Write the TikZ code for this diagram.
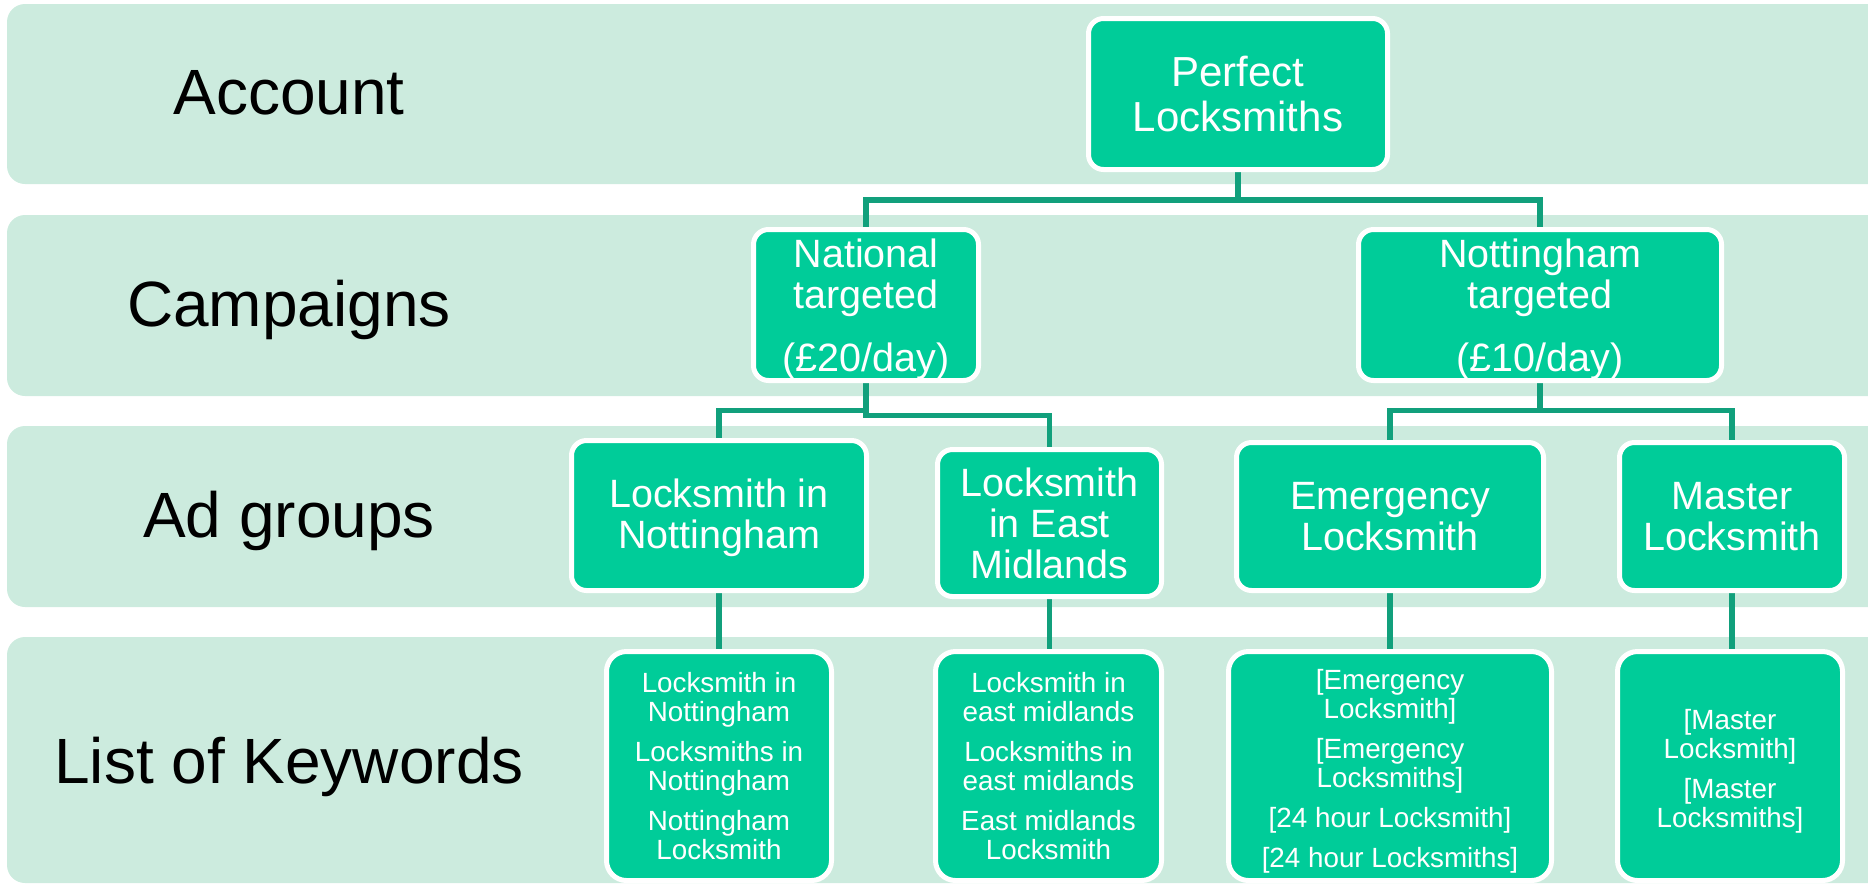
\documentclass[tikz,border=0pt]{standalone}
\usepackage{fontspec}
\setmainfont{Liberation Sans}
\definecolor{bandfill}{RGB}{204,235,222}
\definecolor{boxfill}{RGB}{0,204,153}
\definecolor{linkcol}{RGB}{17,160,124}
\newcommand\fsLabel{\fontsize{32pt}{38pt}\selectfont}
\newcommand\fsTop{\fontsize{21pt}{22.5pt}\selectfont}
\newcommand\fsMid{\fontsize{19.75pt}{20.5pt}\selectfont}
\newcommand\fsKey{\fontsize{13.9pt}{14.5pt}\selectfont}
% invisible rule that lowers a node's text block by enlarging its first line
\newcommand\lift[1]{\rule{0pt}{#1}}
\pgfdeclarelayer{bands}
\pgfdeclarelayer{links}
\pgfsetlayers{bands,links,main}
\tikzset{
  band/.style={fill=bandfill, rounded corners=9pt},
  box/.style={draw=white, line width=2.5pt, fill=boxfill, rounded corners=7.5pt,
    text=white, align=center, inner sep=0pt, outer sep=0pt},
  kwbox/.style={box, rounded corners=10pt, font=\fsKey},
  sz/.style 2 args={minimum width=#1*0.5pt, minimum height=#2*0.5pt},
  conn/.style={draw=linkcol, line width=2.75pt},
  lbl/.style={font=\fsLabel, text=black, anchor=base, inner sep=0pt}
}
\begin{document}
\begin{tikzpicture}[x=0.5pt,y=-0.5pt]

\useasboundingbox (0,0) rectangle (1868,885);
\clip (0,0) rectangle (1868,885);

% level bands
\begin{pgfonlayer}{bands}
  \fill[band] (7,4)   rectangle (1890,184);
  \fill[band] (7,215) rectangle (1890,396);
  \fill[band] (7,426) rectangle (1890,607);
  \fill[band] (7,637) rectangle (1890,883);
\end{pgfonlayer}

% level names
\node[lbl] (lacct) at (289,114) {Account};
\node[lbl] (lcamp) at (289,326) {Campaigns};
\node[lbl] (ladg)  at (289,537) {Ad groups};
\node[lbl] (lkw)   at (289,783) {List of Keywords};

% account
\node[box, sz={299}{151}, font=\fsTop] (pl) at (1238,94) {Perfect\\Locksmiths};

% campaigns
\node[box, sz={225}{151}, font=\fsMid] (nat) at (866,305)
  {\lift{18.9pt}National\\targeted\\[11pt](£20/day)};
\node[box, sz={363}{151}, font=\fsMid] (ntt) at (1540,305)
  {\lift{18.9pt}Nottingham\\targeted\\[11pt](£10/day)};

% ad groups
\node[box, sz={295}{150}, font=\fsMid] (lin) at (719,515.5) {\lift{17pt}Locksmith in\\Nottingham};
\node[box, sz={224}{147}, font=\fsMid] (lem) at (1049.5,523) {Locksmith\\in East\\Midlands};
\node[box, sz={307}{148}, font=\fsMid] (emg) at (1390,516.5) {Emergency\\Locksmith};
\node[box, sz={225}{148}, font=\fsMid] (mst) at (1732,516.5) {Master\\Locksmith};

% keyword lists
\node[kwbox, sz={225}{229}] (k1) at (719,766)
  {Locksmith in\\Nottingham\\[5.5pt]Locksmiths in\\Nottingham\\[5.5pt]Nottingham\\Locksmith};
\node[kwbox, sz={226}{229}] (k2) at (1048.5,766)
  {Locksmith in\\east midlands\\[5.5pt]Locksmiths in\\east midlands\\[5.5pt]East midlands\\Locksmith};
\node[kwbox, sz={323}{229}] (k3) at (1390,766)
  {\lift{15pt}[Emergency\\Locksmith]\\[5.5pt][Emergency\\Locksmiths]\\[5.5pt][24 hour Locksmith]\\[5.5pt][24 hour Locksmiths]};
\node[kwbox, sz={225}{229}] (k4) at (1730,766)
  {\lift{15pt}[Master\\Locksmith]\\[5.5pt][Master\\Locksmiths]};

% hierarchy links
\begin{pgfonlayer}{links}
  \draw[conn] (pl.south) -- ++(0,30.5) -| (nat.north);
  \draw[conn] (pl.south) -- ++(0,30.5) -| (ntt.north);
  \draw[conn] (nat.south) -- ++(0,30) -| (lin.north);
  \draw[conn] (nat.south) -- ++(0,35) -| (lem.north);
  \draw[conn] (ntt.south) -- ++(0,30) -| (emg.north);
  \draw[conn] (ntt.south) -- ++(0,30) -| (mst.north);
  \draw[conn] (lin.south) -- (lin.south |- k1.north);
  \draw[conn] (lem.south) -- (lem.south |- k2.north);
  \draw[conn] (emg.south) -- (emg.south |- k3.north);
  \draw[conn] (mst.south) -- (mst.south |- k4.north);
\end{pgfonlayer}
\end{tikzpicture}
\end{document}
